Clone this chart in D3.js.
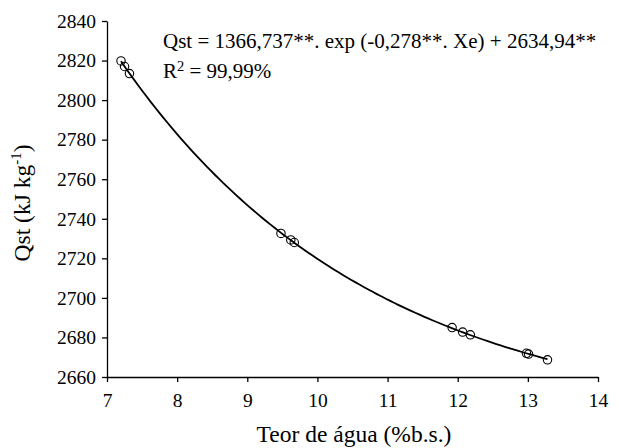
<!DOCTYPE html>
<html><head><meta charset="utf-8">
<script src="https://cdn.jsdelivr.net/npm/d3@7"></script>
<style>body{margin:0;background:#fff}svg{display:block}</style>
</head><body><svg id="c" width="619" height="448"></svg>
<script>
const moisture = [7.20, 7.25, 7.32, 9.48, 9.62, 9.67, 11.92, 12.07, 12.18, 12.98, 13.01, 13.28];
const qst = [2819.8, 2817.0, 2813.4, 2732.6, 2729.3, 2728.0, 2685.0, 2682.7, 2681.3, 2672.0, 2671.6, 2668.7];
const fitA = 1366.737, fitB = -0.278, fitC = 2634.94;
const xTicks = [7, 8, 9, 10, 11, 12, 13, 14];
const yTicks = [2660, 2680, 2700, 2720, 2740, 2760, 2780, 2800, 2820, 2840];

const FONT = "Liberation Serif";
const svg = d3.select("#c");
const x = d3.scaleLinear().domain([7, 14]).range([107, 598]);
const y = d3.scaleLinear().domain([2660, 2840]).range([377, 21]);

const xAxis = svg.append("g").attr("transform", `translate(0,${y(2660)})`)
  .call(d3.axisBottom(x).tickValues(xTicks).tickSize(5).tickSizeOuter(0).tickPadding(11).tickFormat(d3.format("d")));
const yAxis = svg.append("g").attr("transform", `translate(${x(7)},0)`)
  .call(d3.axisLeft(y).tickValues(yTicks).tickSize(5).tickSizeOuter(0).tickPadding(6).tickFormat(d3.format("d")));
[xAxis, yAxis].forEach(g => {
  g.attr("font-family", FONT).attr("font-size", 19.5);
  g.selectAll("path,line").attr("stroke", "#000").attr("stroke-width", 1.3);
  g.selectAll("text").attr("fill", "#000").attr("font-family", FONT);
});

// fitted curve from the stated regression equation
const curveX = d3.range(0, 101).map(i => moisture[0] + (moisture[moisture.length-1] - moisture[0]) * i / 100);
svg.append("path")
  .datum(curveX)
  .attr("fill", "none").attr("stroke", "#000").attr("stroke-width", 1.8)
  .attr("d", d3.line().x(d => x(d)).y(d => y(fitA * Math.exp(fitB * d) + fitC)));

svg.append("g").selectAll("circle").data(moisture).join("circle")
  .attr("cx", d => x(d)).attr("cy", (d, i) => y(qst[i])).attr("r", 4.2)
  .attr("fill", "none").attr("stroke", "#000").attr("stroke-width", 1.1);

svg.append("text").attr("x", 163).attr("y", 48).attr("font-family", FONT).attr("font-size", 21)
  .text("Qst = 1366,737**. exp (-0,278**. Xe) + 2634,94**");
const r2 = svg.append("text").attr("x", 163).attr("y", 78).attr("font-family", FONT).attr("font-size", 21);
r2.append("tspan").text("R");
r2.append("tspan").attr("dy", -7).attr("font-size", 14.5).text("2");
r2.append("tspan").attr("dy", 7).text(" = 99,99%");

svg.append("text").attr("x", 354).attr("y", 442).attr("text-anchor", "middle").attr("font-family", FONT).attr("font-size", 23.5)
  .text("Teor de água (%b.s.)");
const yt = svg.append("text").attr("transform", "translate(30,203) rotate(-90)").attr("text-anchor", "middle").attr("font-family", FONT).attr("font-size", 23.5);
yt.append("tspan").text("Qst (kJ kg");
yt.append("tspan").attr("dy", -9).attr("font-size", 15).text("-1");
yt.append("tspan").attr("dy", 9).text(")");
</script></body></html>
